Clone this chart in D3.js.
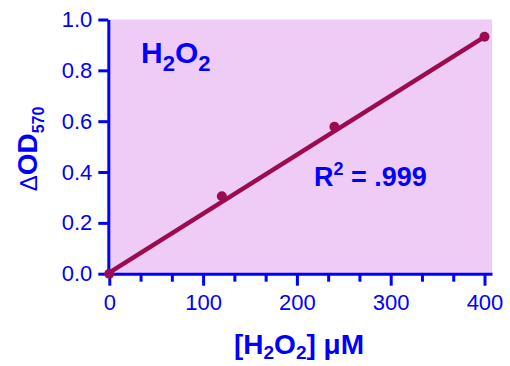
<!DOCTYPE html>
<html><head><meta charset="utf-8">
<script src="https://cdn.jsdelivr.net/npm/d3@7"></script>
<style>html,body{margin:0;padding:0;background:#fff;}svg{display:block;font-family:"Liberation Sans",Arial,sans-serif;}</style>
</head><body><svg id="c" width="510" height="366"></svg>
<script>
const concX = [0, 120, 240, 400];
const odY = [0.0, 0.305, 0.578, 0.932];
const fitX = [0, 400];
const fitY = [0.004, 0.932];
const xTicks = [0, 100, 200, 300, 400];
const xMinor = [33.33, 66.67, 133.33, 166.67, 233.33, 266.67, 333.33, 366.67];
const yTicks = [0.0, 0.2, 0.4, 0.6, 0.8, 1.0];

const blue = "#0000FF", red = "#9C0A50", bg = "#EECCF6";
const svg = d3.select("#c");
const x = d3.scaleLinear().domain([0, 408]).range([109.3, 492]);
const y = d3.scaleLinear().domain([0, 1]).range([273.7, 19.5]);

svg.append("rect").attr("x", x(0)).attr("y", y(1)).attr("width", x(408) - x(0)).attr("height", y(0) - y(1)).attr("fill", bg);

// x axis
const gx = svg.append("g").attr("transform", `translate(0,${y(0)})`)
  .call(d3.axisBottom(x).tickValues(xTicks).tickFormat(d3.format("d")).tickSize(12).tickSizeOuter(0).tickPadding(9));
gx.select(".domain").attr("stroke", blue).attr("stroke-width", 3);
gx.selectAll(".tick line").attr("stroke", blue).attr("stroke-width", 3);
gx.selectAll(".tick text").attr("fill", blue).attr("font-size", 22).attr("font-family", "Liberation Sans");
const gxm = svg.append("g").attr("transform", `translate(0,${y(0)})`)
  .call(d3.axisBottom(x).tickValues(xMinor).tickFormat("").tickSize(8).tickSizeOuter(0));
gxm.select(".domain").remove();
gxm.selectAll(".tick line").attr("stroke", blue).attr("stroke-width", 3);

// y axis
const gy = svg.append("g").attr("transform", `translate(${x(0) - 1},0)`)
  .call(d3.axisLeft(y).tickValues(yTicks).tickFormat(d3.format(".1f")).tickSize(10).tickSizeOuter(0).tickPadding(6));
gy.select(".domain").attr("stroke", blue).attr("stroke-width", 3);
gy.selectAll(".tick line").attr("stroke", blue).attr("stroke-width", 3);
gy.selectAll(".tick text").attr("fill", blue).attr("font-size", 22).attr("font-family", "Liberation Sans");

// fit line
svg.append("path").datum(fitX.map((d, i) => [d, fitY[i]]))
  .attr("d", d3.line().x(d => x(d[0])).y(d => y(d[1])))
  .attr("fill", "none").attr("stroke", red).attr("stroke-width", 4.5);
svg.selectAll("circle.pt").data(concX.map((d, i) => [d, odY[i]])).join("circle")
  .attr("class", "pt").attr("cx", d => x(d[0])).attr("cy", d => y(d[1])).attr("r", 5).attr("fill", red);

// in-plot labels
const t1 = svg.append("text").attr("x", 141).attr("y", 63).attr("fill", blue).attr("font-weight", "bold").attr("font-size", 30);
t1.append("tspan").text("H");
t1.append("tspan").attr("font-size", 22).attr("dy", 8).text("2");
t1.append("tspan").attr("dy", -8).text("O");
t1.append("tspan").attr("font-size", 22).attr("dy", 8).text("2");

const t2 = svg.append("text").attr("x", 314).attr("y", 186).attr("fill", blue).attr("font-weight", "bold").attr("font-size", 27);
t2.append("tspan").text("R");
t2.append("tspan").attr("font-size", 18).attr("dy", -11).text("2");
t2.append("tspan").attr("dy", 11).text(" = .999");

// x title
const t3 = svg.append("text").attr("x", 299).attr("y", 354).attr("text-anchor", "middle").attr("fill", blue).attr("font-weight", "bold").attr("font-size", 28);
t3.append("tspan").text("[H");
t3.append("tspan").attr("font-size", 19).attr("dy", 5).text("2");
t3.append("tspan").attr("dy", -5).text("O");
t3.append("tspan").attr("font-size", 19).attr("dy", 5).text("2");
t3.append("tspan").attr("dy", -5).text("] μM");

// y title
const t4 = svg.append("text").attr("transform", "translate(37,149) rotate(-90)").attr("text-anchor", "middle").attr("fill", blue).attr("font-weight", "bold").attr("font-size", 28);
t4.append("tspan").attr("font-size", 24).attr("font-weight", "normal").text("Δ");
t4.append("tspan").text("OD");
t4.append("tspan").attr("font-size", 16).attr("dy", 7).text("570");
</script></body></html>
